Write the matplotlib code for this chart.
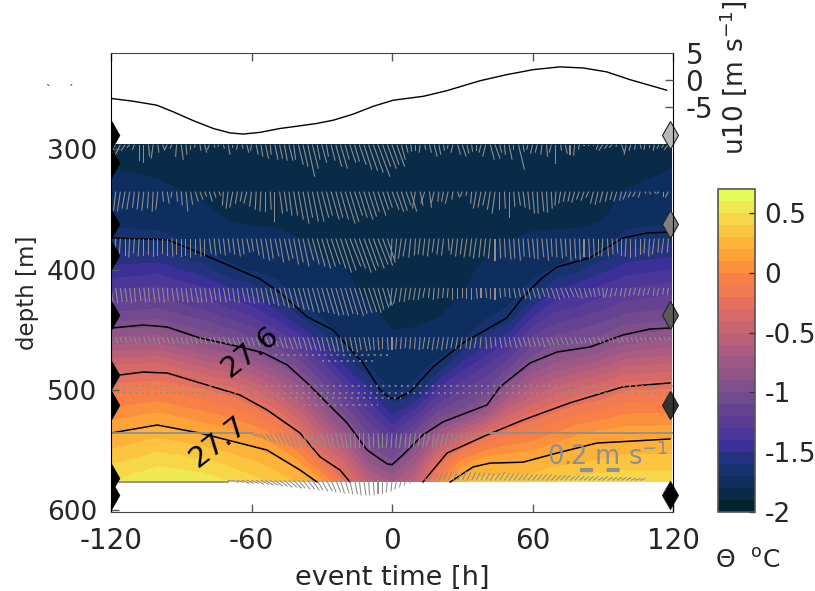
import numpy as np
import matplotlib
matplotlib.use('Agg')
import matplotlib.pyplot as plt
from matplotlib.colors import ListedColormap, BoundaryNorm
from matplotlib.colorbar import ColorbarBase

# potential temperature, one list per event time column
depth = [296, 320, 340, 360, 380, 400, 420, 440, 460, 480, 500, 520, 540, 560, 576]
hours = [-120, -100, -80, -70, -60, -50, -40, -30, -20, -10, 0, 10, 20, 30, 40, 50, 60, 70, 80, 90, 100, 119.5]
th_m120 = [-1.86, -1.79, -1.76, -1.72, -1.64, -1.47, -1.28, -1.05, -0.74, -0.39, -0.14, 0.05, 0.23, 0.38, 0.5]
th_m100 = [-1.86, -1.81, -1.77, -1.73, -1.65, -1.44, -1.23, -1.02, -0.72, -0.36, -0.1, 0.11, 0.3, 0.47, 0.6]
th_m80 = [-1.86, -1.83, -1.81, -1.77, -1.72, -1.57, -1.35, -1.13, -0.89, -0.53, -0.2, 0.02, 0.23, 0.42, 0.56]
th_m70 = [-1.86, -1.84, -1.82, -1.8, -1.75, -1.68, -1.44, -1.21, -0.97, -0.6, -0.25, -0.03, 0.19, 0.37, 0.5]
th_m60 = [-1.86, -1.84, -1.83, -1.81, -1.76, -1.71, -1.53, -1.29, -1.05, -0.72, -0.38, -0.11, 0.13, 0.31, 0.44]
th_m50 = [-1.86, -1.84, -1.83, -1.81, -1.77, -1.73, -1.65, -1.42, -1.17, -0.86, -0.54, -0.24, 0.03, 0.25, 0.36]
th_m40 = [-1.86, -1.85, -1.83, -1.82, -1.79, -1.76, -1.72, -1.59, -1.31, -1.03, -0.75, -0.46, -0.18, 0.11, 0.28]
th_m30 = [-1.87, -1.86, -1.85, -1.84, -1.81, -1.79, -1.74, -1.71, -1.53, -1.27, -1.02, -0.75, -0.47, -0.18, 0.12]
th_m20 = [-1.87, -1.87, -1.86, -1.85, -1.83, -1.8, -1.77, -1.73, -1.71, -1.52, -1.27, -1.03, -0.74, -0.42, -0.22]
th_m10 = [-1.87, -1.87, -1.87, -1.86, -1.85, -1.84, -1.82, -1.77, -1.74, -1.7, -1.5, -1.28, -1.07, -0.81, -0.55]
th_0 = [-1.87, -1.87, -1.87, -1.87, -1.86, -1.85, -1.84, -1.82, -1.78, -1.74, -1.71, -1.52, -1.25, -0.98, -0.72]
th_p10 = [-1.87, -1.87, -1.87, -1.87, -1.86, -1.85, -1.84, -1.82, -1.77, -1.73, -1.68, -1.34, -1.0, -0.73, -0.52]
th_p20 = [-1.87, -1.87, -1.87, -1.86, -1.85, -1.84, -1.83, -1.8, -1.75, -1.68, -1.37, -1.06, -0.67, -0.25, -0.02]
th_p30 = [-1.87, -1.87, -1.87, -1.86, -1.85, -1.83, -1.8, -1.75, -1.7, -1.46, -1.2, -0.95, -0.41, 0.04, 0.28]
th_p40 = [-1.87, -1.87, -1.86, -1.85, -1.82, -1.78, -1.74, -1.71, -1.54, -1.31, -1.09, -0.73, -0.19, 0.18, 0.35]
th_p50 = [-1.87, -1.87, -1.86, -1.84, -1.79, -1.76, -1.73, -1.67, -1.4, -1.13, -0.81, -0.42, -0.09, 0.2, 0.36]
th_p60 = [-1.87, -1.86, -1.85, -1.82, -1.77, -1.73, -1.66, -1.4, -1.15, -0.89, -0.58, -0.28, -0.03, 0.21, 0.36]
th_p70 = [-1.87, -1.86, -1.85, -1.82, -1.76, -1.69, -1.46, -1.25, -1.04, -0.77, -0.46, -0.18, 0.05, 0.27, 0.4]
th_p80 = [-1.87, -1.86, -1.85, -1.82, -1.75, -1.62, -1.41, -1.2, -1.0, -0.7, -0.37, -0.1, 0.13, 0.29, 0.45]
th_p90 = [-1.87, -1.86, -1.84, -1.8, -1.72, -1.53, -1.33, -1.14, -0.94, -0.62, -0.3, -0.06, 0.17, 0.32, 0.46]
th_p100 = [-1.87, -1.84, -1.78, -1.74, -1.63, -1.45, -1.26, -1.07, -0.84, -0.51, -0.21, 0.0, 0.19, 0.35, 0.47]
th_p120 = [-1.85, -1.79, -1.75, -1.71, -1.59, -1.4, -1.21, -1.03, -0.77, -0.47, -0.19, 0.01, 0.2, 0.35, 0.47]

# isopycnals, NaN where they leave the field
iso_a_t = [-120, -96, -82, -56.4, -47.8, -36.3, -25.2, -12.4, -5, -1, 2.1, 7.7, 17.5, 30.3, 49, 56, 64, 70.5, 84.5, 98.6, 108.9, 118.7]
iso_a_d = [373.6, 375, 386, 407.6, 419, 439, 450, 477.5, 500, 506.6, 507, 501.6, 480.8, 460.8, 440, 422.6, 406.8, 397.7, 390, 373.6, 369.4, 368.6]
iso_b_t = [-120, -106.3, -96, -82, -65, -55, -44.8, -36.3, -27.8, -19.2, -10.7, -2.1, 0, 4.7, 13.2, 21.8, 40.6, 46.1, 58.9, 70.5, 84.5, 98.6, 110.2, 118.7]
iso_b_d = [448.4, 445.9, 447.5, 456.7, 464, 469, 479, 494, 510.6, 527.2, 549.7, 561.3, 562, 553.8, 537.2, 526.4, 512.3, 497.3, 477.5, 468.3, 464.2, 454.2, 449.2, 448.4]
iso_c_t = [-120, -106.3, -96, -82, -65, -53.4, -39.3, -30.7, -22.2, -17.9, np.nan, 13.2, 23.5, 40.6, 56, 76, 98.6, 118.7]
iso_c_d = [488.3, 485, 485.8, 494, 504, 516.4, 535.6, 555.5, 566.4, 576.4, np.nan, 576.4, 552.3, 537.2, 524.8, 510.6, 497.3, 494]
iso_d_t = [-120, -100.3, -82, -53.4, -39.3, -32, np.nan, 24.8, 34.6, 41.8, 55.9, 70.5, 87.5, 118.7]
iso_d_d = [535.7, 529, 535.7, 549.8, 566.4, 576.4, np.nan, 576.4, 563.9, 560.7, 559.9, 552.3, 544, 540.6]

# wind
wind_t = [-119.7, -110.4, -100.5, -93.4, -84.8, -76.3, -69.2, -63.5, -56.4, -47.8, -40.7, -32.2, -25, -16.5, -8, 0.6,
          13.4, 23.3, 37.6, 49, 60.3, 71.7, 81.7, 91.7, 101.6, 117.3]
wind_u = [-3.4, -3.9, -4.6, -5.8, -7.4, -8.8, -9.6, -9.8, -9.5, -8.8, -8.4, -7.9, -7.3, -6.2, -4.8, -3.7,
          -3, -2, -0.2, 0.9, 1.8, 2.3, 2.1, 1.4, 0, -1.9]

# mooring instruments
inst_left = [288, 311, 362, 388, 437.6, 487.5, 512.4, 573, 587]
inst_right = [288, 362, 437.6, 512.4, 587]
inst_right_c = ['#b8b8b8', '#808080', '#5a5a5a', '#333333', '#000000']

# current sticks every 2 h, east and south, in units of 4 mm/s
s296 = [3, 5, 10, 6, 3, 5, 16, 18, 12, 14, 8, 5, 6, 4, 12, 15, 10, 5, 3, 6, 8, 5, 3, 2, 4, 10, 3, 5, 4, 8, 6, 10, 12, 14, 10, 15, 14, 16, 16, 15, 20, 22, 32, 24, 15, 18, 12, 16, 22, 24, 15, 18, 17, 20, 25, 26, 28, 32, 22, 24,
        20, 22, 15, 8, 7, 6, 8, 5, 8, 12, 10, 6, 4, 8, 10, 12, 9, 7, 6, 8, 12, 15, 14, 8, 10, 15, 5, 25, 7, 5, 9, 8, 10, 12, 8, 19, 6, 9, 10, 11, 5, 1, 1, 1, 5, 6, 4, 3, 2, 8, 10, 6, 5, 4, 5, 3, 6, 4, 3, 5]
u296 = [-3, -4, -5, -4, -3, -2, 0, 0, 1, -2, 1, 2, -3, -2, -1, 2, 1, 0, -1, 1, 2, -2, 1, -1, 1, 2, 0, -1, 1, 2, -1, 2, 2, 3, 1, 3, 3, 3, 4, 2, 5, 5, 7, 6, 3, 5, 2, 4, 6, 7, 4, 6, 5, 7, 8, 9, 10, 12, 8, 9,
        7, 8, 4, 2, 1, 0, -1, 1, 2, 3, 2, 1, -1, -2, 3, 4, 2, 1, 0, -2, -3, 4, 5, 2, 1, 3, 0, 6, 1, -1, -2, -2, -1, 1, -2, 0, 1, 2, 0, -1, -1, 0, 0, 0, -2, -4, -3, -3, -1, 3, -2, -2, -1, 1, -1, 0, -1, -2, -2, -4]
s335 = [14, 19, 20, 17, 18, 16, 18, 19, 17, 20, 18, 10, 12, 6, 10, 14, 20, 13, 10, 8, 5, 10, 6, 4, 14, 17, 16, 12, 10, 12, 15, 18, 20, 20, 18, 30, 22, 20, 24, 24, 28, 32, 26, 30, 30, 26, 24, 28, 26, 28, 32, 30, 24, 26, 28, 25, 20, 24, 18, 16,
        18, 20, 19, 14, 20, 17, 14, 12, 16, 12, 10, 10, 12, 8, 6, 5, 4, 12, 17, 16, 14, 18, 22, 18, 17, 26, 15, 14, 16, 18, 22, 22, 20, 21, 17, 14, 12, 10, 10, 11, 8, 9, 6, 12, 13, 11, 10, 8, 10, 9, 8, 6, 5, 6, 2, 3, 2, 2, 5, 6]
u335 = [-1, -2, -3, -3, -3, -2, -2, -2, -1, -1, -2, 1, 2, -1, 1, 1, 2, 2, 3, 3, 2, 3, 2, 2, -1, -2, -3, -2, -2, -3, -2, -1, -1, 0, 1, 0, 3, 3, 3, 4, 5, 6, 5, 6, 7, 7, 6, 8, 7, 8, 10, 9, 8, 8, 9, 8, 6, 8, 6, 5,
        7, 7, 6, 5, 6, -3, 3, -4, 2, -3, -1, -2, -3, -1, 2, -2, -1, -1, -3, -3, -3, -3, -3, 0, 1, 0, 1, 2, 2, 2, 2, 1, 2, 1, 1, -1, -2, -2, -2, -3, -3, -3, -3, -3, -3, -3, -2, -2, -3, -2, -3, -3, -3, -2, 1, 1, 2, -2, 0, -3]
s374 = [16, 18, 16, 17, 19, 15, 18, 17, 16, 18, 17, 15, 17, 18, 16, 18, 17, 19, 16, 18, 17, 15, 17, 15, 17, 14, 16, 18, 16, 14, 13, 17, 20, 22, 20, 18, 24, 22, 20, 26, 24, 28, 22, 26, 28, 30, 28, 26, 30, 34, 32, 28, 30, 34, 32, 28, 30, 26, 27, 24,
        22, 21, 20, 18, 19, 17, 16, 17, 18, 14, 16, 17, 12, 16, 18, 16, 19, 18, 20, 19, 18, 20, 22, 20, 19, 21, 20, 22, 18, 19, 20, 21, 19, 22, 18, 19, 20, 18, 22, 20, 22, 18, 20, 19, 17, 18, 18, 16, 15, 17, 18, 19, 18, 16, 15, 18, 16, 14, 15, 14]
u374 = [-1, -1, -1, 0, -1, -1, -1, 0, 0, 0, 0, 0, 0, 1, 0, 0, 0, 0, 0, 1, 0, 2, 2, 2, 2, 2, 2, 3, 2, 3, 2, 3, 3, 4, 3, 4, 4, 5, 4, 5, 5, 6, 6, 7, 8, 9, 9, 9, 10, 11, 11, 11, 11, 12, 12, 10, 11, 10, 10, 8,
        -1, -2, -3, -3, -2, -1, -2, -2, -2, -2, -2, -2, 1, -2, -2, -2, -3, -2, -3, -2, -2, -2, 0, 1, 1, 2, 1, 2, 1, 2, 2, 1, 2, 2, 1, 1, 2, 1, 1, 1, 1, 0, 1, 1, 0, -1, 1, 1, 1, 0, -1, 0, 0, 0, -1, -1, -2, -1, -2, -1]
s415 = [15, 15, 14, 14, 15, 14, 13, 15, 14, 15, 14, 15, 13, 14, 13, 14, 15, 14, 15, 15, 14, 15, 13, 14, 15, 13, 14, 15, 14, 15, 16, 15, 15, 17, 16, 18, 18, 20, 20, 19, 22, 22, 24, 25, 24, 25, 26, 28, 27, 28, 26, 27, 28, 26, 25, 24, 25, 22, 20, 18,
        18, 16, 14, 14, 12, 12, 12, 10, 10, 12, 11, 10, 10, 12, 11, 10, 11, 12, 11, 10, 10, 11, 12, 10, 9, 10, 10, 9, 11, 12, 10, 11, 9, 10, 11, 12, 10, 10, 9, 10, 11, 10, 9, 9, 8, 10, 9, 9, 8, 8, 9, 8, 7, 8, 8, 7, 8, 8, 7, 7]
u415 = [2, 2, 2, 2, 2, 1, 2, 2, 1, 2, 2, 2, 1, 2, 2, 2, 2, 2, 3, 2, 2, 3, 2, 2, 3, 2, 2, 2, 3, 3, 3, 3, 3, 4, 4, 4, 5, 5, 5, 5, 6, 6, 6, 7, 7, 7, 8, 8, 8, 8, 8, 8, 9, 8, 8, 8, 8, 6, 6, 5,
        -2, -3, -2, -2, -2, -2, -2, -2, -1, -1, -1, -1, -1, 0, 0, 0, 0, 0, 1, 0, 1, 0, 0, 1, 1, 1, 2, 2, 3, 3, 3, 3, 3, 3, 4, 4, 4, 4, 4, 4, 3, 3, 3, 2, 2, 1, -2, -2, -2, -1, -2, -2, -2, -2, -2, -2, -1, -2, -1, -1]
s456 = [5, 6, 5, 6, 5, 6, 5, 6, 5, 6, 7, 6, 6, 7, 6, 7, 7, 6, 7, 6, 7, 7, 7, 8, 7, 8, 8, 9, 8, 9, 9, 10, 9, 10, 10, 10, 11, 11, 12, 12, 12, 13, 13, 13, 14, 14, 14, 15, 14, 15, 14, 14, 15, 13, 14, 13, 13, 13, 12, 13,
        13, 12, 12, 11, 12, 12, 13, 12, 12, 13, 12, 13, 12, 11, 12, 12, 11, 12, 11, 11, 12, 11, 10, 11, 10, 10, 11, 10, 9, 10, 9, 9, 10, 9, 8, 8, 7, 8, 7, 7, 7, 6, 7, 6, 6, 6, 5, 5, 6, 5, 5, 4, 5, 4, 4, 4, 3, 3, 3, 3]
u456 = [1, 2, 1, 2, 2, 2, 1, 2, 2, 2, 2, 2, 2, 2, 2, 2, 2, 2, 2, 2, 2, 3, 2, 3, 3, 3, 3, 3, 3, 3, 3, 4, 3, 4, 3, 3, 4, 3, 4, 4, 3, 4, 4, 4, 4, 3, 4, 4, 3, 3, 3, 3, 3, 2, 3, 2, 1, 1, 0, 1,
        0, -1, -1, -1, -1, -1, -1, -2, -2, -2, -2, -2, -2, -2, -2, -2, -1, -2, -2, -1, 1, 1, 1, 2, 2, 2, 3, 3, 3, 3, 3, 3, 3, 4, 3, 3, 3, 3, 3, 3, 3, 2, 3, 2, 3, 2, 3, 2, 3, 2, 2, 2, 2, 2, 1, 2, 2, 2, 2, 2]
# row 536 has sticks from -60 h to 40 h only, row 575 from -70 h on
s536 = [3, 4, 6, 8, 9, 11, 12, 13, 13, 14, 13, 14, 14, 15, 14, 15, 14, 15, 15, 14, 15, 14, 15, 15, 14, 15, 14, 15, 15, 14, 15, 14, 15, 14, 15, 14, 13, 14, 13, 14, 13, 12, 12, 11, 10, 8, 7, 6, 4, 3]
u536 = [5, 5, 5, 6, 5, 6, 5, 6, 5, 5, 5, 5, 5, 4, 4, 4, 4, 3, 3, 3, 2, 1, 1, 0, 0, 1, 0, 1, 0, -1, -1, -1, -2, -1, -2, -2, -2, -2, -3, -2, -3, -3, -3, -2, -3, -3, -2, -2, -2, -2]
s575 = [1, 2, 2, 3, 3, 3, 4, 4, 5, 5, 6, 6, 7, 7, 8, 8, 9, 9, 10, 10, 11, 11, 12, 12, 13, 13, 14, 14, 15, 15, 15, 15, 14, 14, 12, 11, 9, 7, 5, 3, 1, 0, -2, -5, -7, -8, -8, -9, -8, -8, -9, -8, -8, -8, -8, -7, -7, -7, -8, -7, -7, -7, -6, -7, -6, -6, -6, -6, -6, -5, -5, -5, -5, -4, -5, -4, -4, -4, -4, -3, -4, -3, -3, -3, -3, -3, -2, -2, -2]
u575 = [5, 6, 6, 7, 7, 7, 8, 8, 8, 8, 8, 8, 8, 8, 8, 7, 7, 7, 7, 6, 6, 6, 5, 5, 4, 4, 3, 3, 2, 2, 1, 1, 0, 0, -1, -1, -2, -2, -2, -1, -1, 0, 1, 3, 4, 4, 4, 4, 4, 4, 4, 4, 4, 4, 4, 4, 4, 5, 5, 5, 5, 5, 5, 5, 5, 5, 5, 5, 5, 5, 5, 5, 5, 5, 5, 5, 5, 5, 5, 5, 5, 5, 5, 5, 5, 5, 5, 5, 5]

# almost still rows, left and right end in hours
dot_rows = [(470.8, -50, 0), (476, -30, -8), (496.6, -120, 120), (502, -120, 120), (506.5, -60, 4), (512, -38, -6)]
flat_rows = [(536, -120, -60), (536, 40, 120), (576, -120, -70)]

th_colors = ['#05222f', '#092b48', '#0d2e5e', '#17336f', '#25327f', '#3b2f98', '#4c3699', '#5a3c96', '#664392',
             '#724a8f', '#80508c', '#8f5589', '#9d5885', '#ab5c80', '#ba6078', '#c96570', '#d66a68', '#e67060',
             '#f07a52', '#f88046', '#fb913c', '#fda338', '#fdb33a', '#fcc540', '#f8d64a', '#f0e852', '#e2fb58']
th_levels = np.arange(-20, 8) / 10

W, H = 815, 591
GREY = '#8f8f8f'
TXT = '#262626'
plt.rcParams['font.family'] = 'DejaVu Sans'
plt.rcParams['font.size'] = 20
plt.rcParams['mathtext.default'] = 'regular'
plt.rcParams['axes.unicode_minus'] = False

fig = plt.figure(figsize=(W / 100, H / 100), dpi=100)
ax = fig.add_axes([111 / W, 1 - 512 / H, 562 / W, 459 / H])

theta = np.array([th_m120, th_m100, th_m80, th_m70, th_m60, th_m50, th_m40, th_m30, th_m20, th_m10, th_0,
                  th_p10, th_p20, th_p30, th_p40, th_p50, th_p60, th_p70, th_p80, th_p90, th_p100, th_p120]).T
cmap = ListedColormap(th_colors)
norm = BoundaryNorm(th_levels, cmap.N)
ax.contourf(hours, depth, theta, levels=th_levels, cmap=cmap, norm=norm, zorder=1)

for t, d in [(iso_a_t, iso_a_d), (iso_b_t, iso_b_d), (iso_c_t, iso_c_d), (iso_d_t, iso_d_d)]:
    ax.plot(t, d, color='k', lw=1.1, zorder=3)
ax.text(-60.5, 468, '27.6', rotation=38, ha='center', va='center', color='k', fontsize=21, zorder=5)
ax.text(-74, 543, '27.7', rotation=38, ha='center', va='center', color='k', fontsize=21, zorder=5)

# sticks
rows = [(296, u296, s296, -120), (335, u335, s335, -120), (374, u374, s374, -120), (415, u415, s415, -120),
        (456, u456, s456, -120), (536, u536, s536, -60), (575, u575, s575, -70)]
for d0, uu, ss, t0 in rows:
    n = min(len(uu), len(ss))
    tt = t0 + 2 * np.arange(n)
    ax.quiver(tt, np.full(n, d0), np.array(uu[:n]), -np.array(ss[:n]), angles='uv', scale_units='dots', scale=1,
              units='dots', width=1.1, headwidth=0, headlength=0, headaxislength=0, minlength=0,
              color=GREY, zorder=4)
for d0, t0, t1 in dot_rows:
    ax.plot([t0, t1], [d0, d0], color=GREY, lw=1.2, ls=(0, (1.2, 2.5)), zorder=4)
for d0, t0, t1 in flat_rows:
    ax.plot([t0, t1], [d0, d0], color=GREY, lw=1.3, zorder=4)

# scale of the sticks
ax.text(66.2, 555, '0.2 m s$^{-1}$', color=GREY, fontsize=18.5, va='center', ha='left', zorder=6)
ax.plot([80.3, 100.3], [566, 566], color=GREY, lw=3, ls=(0, (3.1, 3.3)), zorder=6)

ax.plot(np.full(len(inst_left), -120), inst_left, ls='none', marker='d', ms=14, color='k', zorder=7)
for d0, c in zip(inst_right, inst_right_c):
    ax.plot([118.7], [d0], marker='d', ms=14, mfc=c, mec='#222222', mew=0.8, clip_on=False, zorder=7)

ax.set_xlim(-120, 120)
ax.set_ylim(601.3, 219.8)
ax.set_xticks([-120, -60, 0, 60, 120])
ax.set_yticks([300, 400, 500, 600])
ax.tick_params(direction='in', length=6, width=1, color='#555555', top=True, labelcolor=TXT)
ax.tick_params(axis='x', pad=11)
ax.tick_params(axis='y', pad=10, labelsize=19)
ax.set_xlabel('event time [h]', color=TXT, fontsize=19.5, labelpad=7)
ax.set_ylabel('depth [m]', color=TXT, fontsize=16.5)
ax.yaxis.set_label_coords(-0.128, 0.477)
for name, sp in ax.spines.items():
    sp.set_color('k' if name in ('left', 'right') else '#444444')
    sp.set_zorder(8)

# wind on its own scale, same frame
ax2 = ax.twinx()
ax2.set_ylim(-77.9, 4.8)
ax2.plot(wind_t, wind_u, color='k', lw=1)
ax2.set_yticks([0, -5, 4.8])
ax2.set_yticklabels(['0', '-5', '5'], color=TXT)
ax2.tick_params(axis='y', direction='in', length=6, width=1, color='#555555', pad=9)
ax2.yaxis.get_major_ticks()[2].tick2line.set_visible(False)
for sp in ax2.spines.values():
    sp.set_visible(False)
fig.text(733 / W, 1 - 78 / H, 'u10 [m s$^{-1}$]', rotation=90, ha='center', va='center', color=TXT, fontsize=19)

cax = fig.add_axes([718 / W, 1 - 512 / H, 37 / W, 323 / H])
cb = ColorbarBase(cax, cmap=cmap, norm=norm, spacing='proportional', drawedges=False)
cb.set_ticks([-2, -1.5, -1, -0.5, 0, 0.5])
cb.set_ticklabels(['-2', '-1.5', '-1', '-0.5', '0', '0.5'])
cax.minorticks_off()
cax.tick_params(direction='in', length=4, width=1, color='#333333', labelcolor=TXT, pad=7, labelsize=19)
cb.outline.set_edgecolor('#555555')
cb.outline.set_linewidth(1.2)
fig.text(715 / W, 1 - 561 / H, '$\\Theta$  $^{o}$C', color=TXT, fontsize=18, ha='left', va='center')

# stray marks left of the axes
fig.text(47.5 / W, 1 - 90 / H, '`', fontsize=8, ha='center', va='center', color='#222222')
fig.text(71 / W, 1 - 90 / H, '´', fontsize=8, ha='center', va='center', color='#222222')

fig.savefig('out.png', dpi=100)
